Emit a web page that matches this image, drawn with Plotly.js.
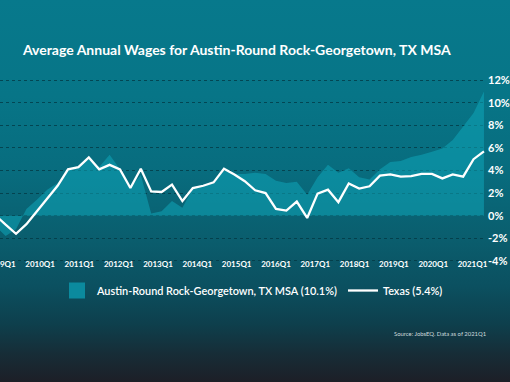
<!DOCTYPE html>
<html><head><meta charset="utf-8">
<script src="https://cdn.plot.ly/plotly-3.0.1.min.js"></script>
<style>
html,body{margin:0;padding:0;width:510px;height:382px;overflow:hidden;}
body{background:linear-gradient(180deg,#07798c 0%,#077587 25%,#086c7e 45%,#0a5e6e 62%,#0b5060 75%,#0e3f4c 85%,#172c36 93%,#1d1f27 100%);}
#chart{width:510px;height:382px;}
</style></head><body><div id="chart"></div>
<script>
const quarters = ["2009Q1","2009Q2","2009Q3","2009Q4","2010Q1","2010Q2","2010Q3","2010Q4",
  "2011Q1","2011Q2","2011Q3","2011Q4","2012Q1","2012Q2","2012Q3","2012Q4",
  "2013Q1","2013Q2","2013Q3","2013Q4","2014Q1","2014Q2","2014Q3","2014Q4",
  "2015Q1","2015Q2","2015Q3","2015Q4","2016Q1","2016Q2","2016Q3","2016Q4",
  "2017Q1","2017Q2","2017Q3","2017Q4","2018Q1","2018Q2","2018Q3","2018Q4",
  "2019Q1","2019Q2","2019Q3","2019Q4","2020Q1","2020Q2","2020Q3","2020Q4","2021Q1"];
const austin = [-0.3,-0.9,-1.8,-1.2,0.6,1.4,2.3,2.9,4.0,4.3,
  5.0,4.3,5.4,4.1,2.5,3.6,0.2,0.4,1.3,0.7,
  2.4,2.6,2.9,4.0,3.7,3.7,3.8,3.7,3.1,2.9,
  3.0,1.85,3.4,4.5,3.8,4.2,3.4,3.2,4.1,4.75,
  4.85,5.2,5.4,5.65,5.95,6.7,7.9,9.1,11.0];
const texas = [0.6,0.05,-0.8,-1.6,-0.75,0.35,1.5,2.65,4.1,4.3,
  5.15,4.1,4.5,4.1,2.45,4.15,2.15,2.1,2.75,1.3,
  2.45,2.65,2.95,4.15,3.65,3.05,2.25,2.0,0.6,0.45,
  1.25,-0.2,1.95,2.3,1.2,2.85,2.4,2.6,3.55,3.65,
  3.45,3.5,3.7,3.7,3.3,3.65,3.45,5.0,5.7];
const tickLabels = ["2009Q1","2010Q1","2011Q1","2012Q1","2013Q1","2014Q1","2015Q1",
  "2016Q1","2017Q1","2018Q1","2019Q1","2020Q1","2021Q1"];
const yTicks = [-4,-2,0,2,4,6,8,10,12];
const austinName = "Austin-Round Rock-Georgetown, TX MSA (10.1%)";
const texasName = "Texas (5.4%)";
const titleText = "Average Annual Wages for Austin-Round Rock-Georgetown, TX MSA";
const sourceText = "Source: JobsEQ. Data as of 2021Q1";

const FONT = "Lato, 'Open Sans', sans-serif";
const areaColor = "rgba(16,168,188,0.52)";
const swatchColor = "#0b8a9e";

const traces = [
  {x: quarters, y: austin, type: "scatter", mode: "none", fill: "tozeroy",
   fillcolor: areaColor, showlegend: false, hoverinfo: "x+y", name: austinName},
  {x: [null], y: [null], xaxis: "x2", type: "scatter", mode: "markers", name: austinName,
   marker: {symbol: "square", size: 19, color: swatchColor}},
  {x: quarters, y: texas, type: "scatter", mode: "lines", name: texasName,
   line: {color: "#ffffff", width: 2.3}}
];

const layout = {
  width: 510, height: 382,
  margin: {l: 0, r: 25, t: 79, b: 120},
  paper_bgcolor: "rgba(0,0,0,0)", plot_bgcolor: "rgba(0,0,0,0)",
  font: {family: FONT, color: "#ffffff"},
  title: {text: titleText, x: 0.045, xanchor: "left", xref: "container",
          y: 1 - 50/382, yanchor: "middle", yref: "container",
          font: {family: FONT, size: 14, color: "#ffffff", weight: 700}},
  xaxis: {type: "category", range: [1.46, 48.1], showgrid: false, zeroline: false,
          showline: false, showticklabels: false, ticks: ""},
  xaxis2: {type: "linear", overlaying: "x", anchor: "y", side: "bottom",
           range: [-0.08, 49.27], showgrid: false, zeroline: false, showline: false,
           tickmode: "array", tickvals: tickLabels.map(l => quarters.indexOf(l)),
           ticktext: tickLabels, ticks: "", ticklabelstandoff: -4, ticklabeloverflow: "allow",
           tickfont: {family: FONT, size: 8, color: "#ffffff", weight: 700}},
  yaxis: {side: "right", range: [-4.1, 12.1], tickmode: "array", tickvals: yTicks,
          ticktext: yTicks.map(v => v + "%"), showgrid: true, gridcolor: "rgba(3,55,66,0.75)",
          griddash: "dot", gridwidth: 1, zeroline: false, showline: false, ticks: "",
          ticklabelstandoff: 2, ticklabeloverflow: "allow",
          tickfont: {family: FONT, size: 11, color: "#ffffff", weight: 700}},
  legend: {orientation: "h", xref: "container", yref: "container", x: 57/510, xanchor: "left",
           y: 1 - 276/382, yanchor: "top", bgcolor: "rgba(0,0,0,0)",
           font: {family: FONT, size: 10.9, color: "#ffffff", weight: 600}},
  annotations: [{text: sourceText, xref: "paper", yref: "paper", x: 488/485, xanchor: "right",
                 y: (262-333)/183, yanchor: "middle", showarrow: false,
                 font: {family: FONT, size: 5.9, color: "#cfdadd"}}],
  showlegend: true
};

Plotly.newPlot("chart", traces, layout, {displayModeBar: false, staticPlot: true});
</script>
</body></html>
